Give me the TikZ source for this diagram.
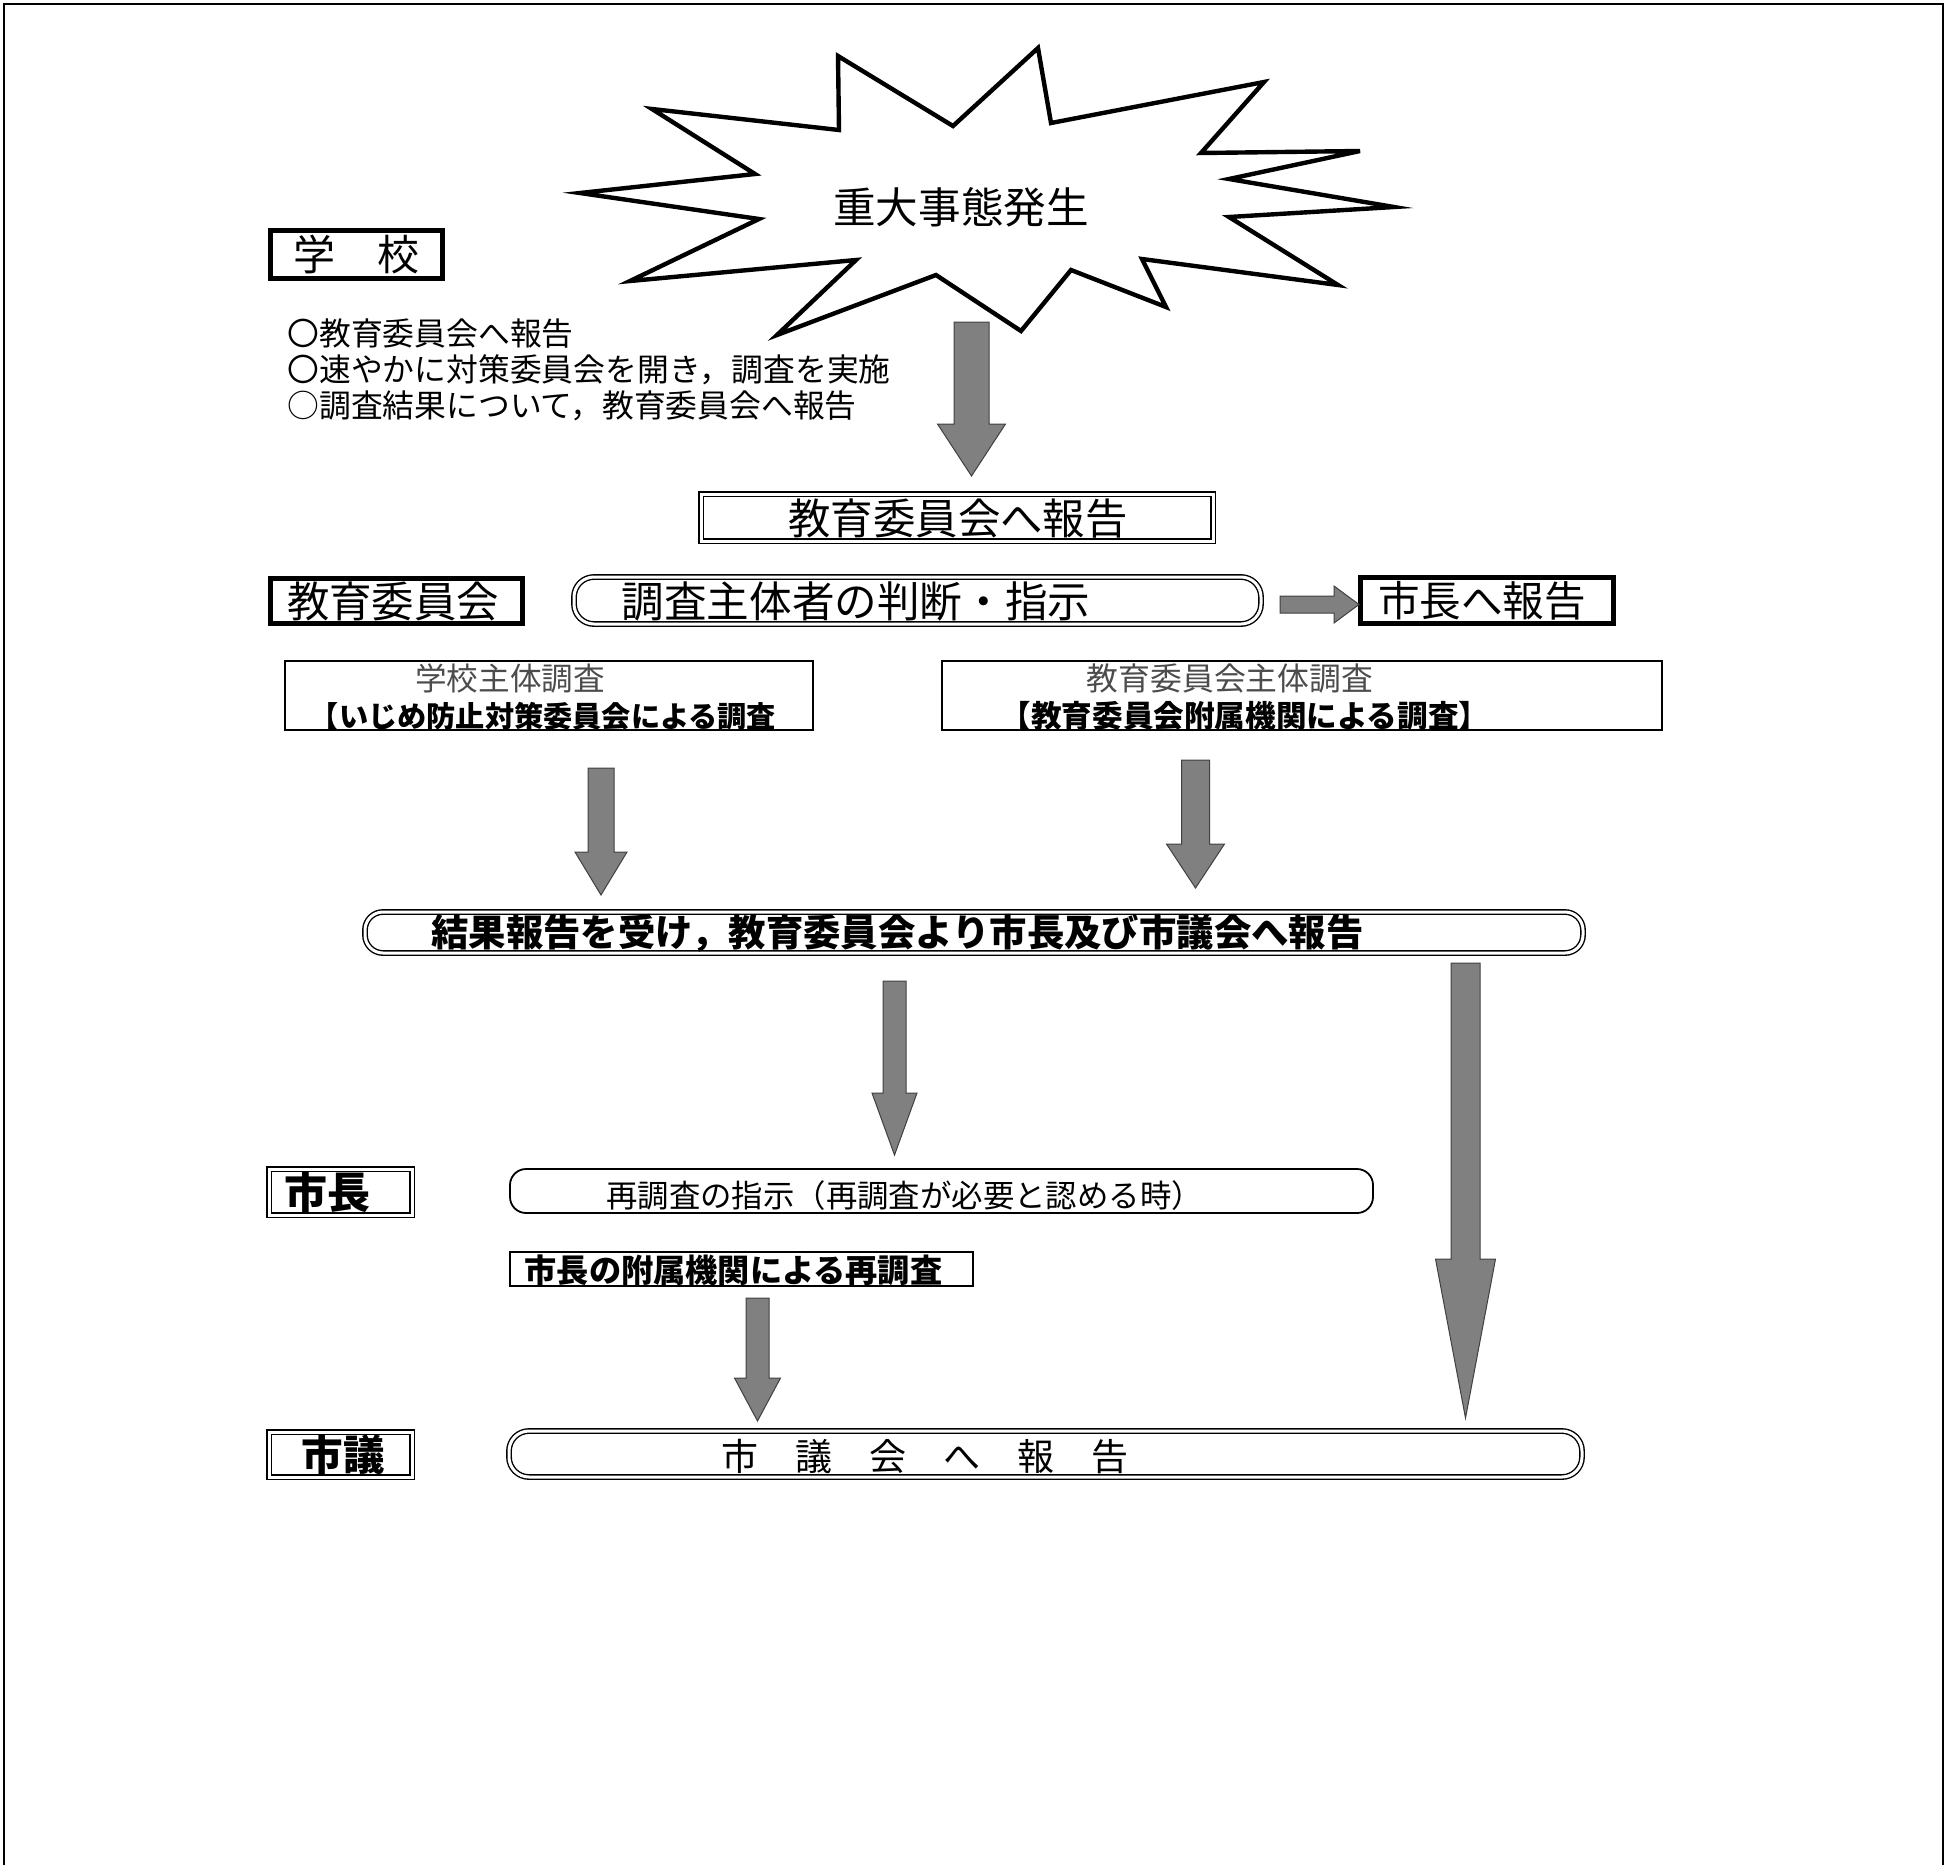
\documentclass[tikz,border=0pt]{standalone}
\usepackage{fontspec}
\setmainfont{Noto Sans CJK JP}
\usetikzlibrary{calc}
\tikzset{
  fs/.style={font=\fontsize{#1}{#1}\selectfont},
  thickbox/.style={draw=black, line width=2.5pt, inner sep=0pt},
  dblbox/.style={draw=black, double=white, double distance=1.5pt, line width=0.7pt, inner sep=0pt},
  dblround/.style={dblbox, rounded corners=10pt},
  thinbox/.style={draw=black, line width=0.9pt, inner sep=0pt},
  thinround/.style={thinbox, rounded corners=8pt},
  sz/.style 2 args={minimum width=#1*0.5pt, minimum height=#2*0.5pt},
  txt/.style={inner sep=0pt, anchor=center},
  garrow/.style={fill=gray, draw=black!75, line width=0.5pt, line join=miter},
  burst/.style={draw=black, line width=2.2pt, fill=white, line join=miter},
}
% downward block arrow: start, tip, shaft half, head half, head length (px)
\newcommand{\blockdown}[5]{%
  \draw[garrow] let \p1=(#1), \p2=(#2) in
    (\x1-#3*0.5pt,\y1) -- (\x1+#3*0.5pt,\y1) -- (\x1+#3*0.5pt,\y2+#5*0.5pt)
    -- (\x1+#4*0.5pt,\y2+#5*0.5pt) -- (\x2,\y2) -- (\x1-#4*0.5pt,\y2+#5*0.5pt)
    -- (\x1-#3*0.5pt,\y2+#5*0.5pt) -- cycle;}
% rightward block arrow
\newcommand{\blockright}[5]{%
  \draw[garrow] let \p1=(#1), \p2=(#2) in
    (\x1,\y1+#3*0.5pt) -- (\x2-#5*0.5pt,\y1+#3*0.5pt) -- (\x2-#5*0.5pt,\y1+#4*0.5pt)
    -- (\x2,\y2) -- (\x2-#5*0.5pt,\y1-#4*0.5pt) -- (\x2-#5*0.5pt,\y1-#3*0.5pt)
    -- (\x1,\y1-#3*0.5pt) -- cycle;}
\begin{document}
\begin{tikzpicture}[x=0.5pt,y=-0.5pt]
\useasboundingbox (0,0) rectangle (1955,1865);
% page frame (no bottom edge)
\draw[line width=1.4pt] (4,1865) -- (4,4) -- (1943,4) -- (1943,1865);

% burst
\draw[burst] (580,193) -- (755,174) -- (652,109) -- (839,130) -- (838,56) -- (953,126)
  -- (1038,48) -- (1051,123) -- (1264,82) -- (1201,153) -- (1360,151) -- (1229,179)
  -- (1394,207) -- (1229,217) -- (1338,285) -- (1142,259) -- (1166,307) -- (1071,270)
  -- (1021,331) -- (936,275) -- (777,335) -- (856,260) -- (630,281) -- (759,219) -- cycle;
\node[txt, fs=21.3pt] (tstar) at (961,207) {重大事態発生};

% school
\node[thickbox, sz={172}{48}] (gakko) at (356.5,254.5) {};
\node[txt, fs=21pt] (tgakko) at (356,254) {学　校};
\node[txt, anchor=west, fs=15.9pt] (b1) at (287,334) {〇教育委員会へ報告};
\node[txt, anchor=west, fs=15.9pt] (b2) at (287,370) {〇速やかに対策委員会を開き，調査を実施};
\node[txt, anchor=west, fs=15.9pt] (b3) at (287,406) {○調査結果について，教育委員会へ報告};

% report to board
\node[dblbox, sz={512}{47}] (hokoku) at (957,517.5) {};
\node[txt, fs=21.2pt] (thokoku) at (958,519) {教育委員会へ報告};

% board row
\node[thickbox, sz={252}{45}] (kyoiku) at (396.5,601) {};
\node[txt, fs=21.2pt] (tkyoiku) at (393,601) {教育委員会};
\node[dblround, sz={687}{47}] (chosa) at (917.5,600.5) {};
\node[txt, fs=21.3pt] (tchosa) at (856,601) {調査主体者の判断・指示};
\node[thickbox, sz={253}{46}] (shichoh) at (1487,600.5) {};
\node[txt, fs=20.8pt] (tshichoh) at (1482,601) {市長へ報告};

% two investigation boxes
\node[thinbox, sz={528}{69}] (gchosa) at (549,695.5) {};
\node[txt, fs=15.8pt, text=black!70] (tgc1) at (510,678) {学校主体調査};
\node[txt, fs=14.6pt] (tgc2) at (543,716) {\bfseries 【いじめ防止対策委員会による調査};
\node[thinbox, sz={720}{69}] (kchosa) at (1302,695.5) {};
\node[txt, fs=15.9pt, text=black!70] (tkc1) at (1230,678) {教育委員会主体調査};
\node[txt, fs=15.3pt] (tkc2) at (1245,716) {\bfseries 【教育委員会附属機関による調査】};

% result
\node[dblround, rounded corners=9pt, sz={1218}{41}] (kekka) at (974,932.5) {};
\node[txt, fs=18.7pt] (tkekka) at (897.5,933) {\bfseries 結果報告を受け，教育委員会より市長及び市議会へ報告};

% mayor
\node[dblbox, sz={143}{46}] (shicho) at (340.5,1192) {};
\node[txt, fs=21.5pt] (tshicho) at (327,1192) {\bfseries 市長};
\node[thinround, sz={863}{44}] (sai) at (941.5,1191) {};
\node[txt, fs=15.7pt] (tsai) at (904.5,1196) {再調査の指示（再調査が必要と認める時）};
\node[thinbox, sz={463}{34}] (fuzoku) at (741.5,1269) {};
\node[txt, fs=16.1pt] (tfuzoku) at (733.5,1270) {\bfseries 市長の附属機関による再調査};

% council
\node[dblbox, sz={143}{45}] (shigi) at (340.5,1454.5) {};
\node[txt, fs=20.8pt] (tshigi) at (343.5,1455) {\bfseries 市議};
\node[dblround, sz={1073}{46}] (shigikai) at (1045.5,1454) {};
\node[txt, fs=18.5pt] (tshigikai) at (925,1456) {市　議　会　へ　報　告};

% arrows
\coordinate (a1s) at (971.5,322);  \coordinate (a1t) at (971.5,476);
\coordinate (ahs) at (1280,604.5); \coordinate (aht) at (1359,604.5);
\coordinate (aLs) at (601,768);    \coordinate (aLt) at (601,895);
\coordinate (aRs) at (1195.5,760); \coordinate (aRt) at (1195.5,888);
\coordinate (aMs) at (894.5,981);  \coordinate (aMt) at (894.5,1155);
\coordinate (aGs) at (1465.5,963); \coordinate (aGt) at (1465.5,1418);
\coordinate (aSs) at (757.5,1298); \coordinate (aSt) at (757.5,1421);
\blockdown{a1s}{a1t}{17.5}{34}{52}
\blockright{ahs}{aht}{8.5}{18.5}{25}
\blockdown{aLs}{aLt}{13}{26}{43}
\blockdown{aRs}{aRt}{14}{29}{44}
\blockdown{aMs}{aMt}{11.5}{22.5}{62}
\blockdown{aGs}{aGt}{14.5}{30}{159}
\blockdown{aSs}{aSt}{11.5}{23}{43}
\end{tikzpicture}
\end{document}
